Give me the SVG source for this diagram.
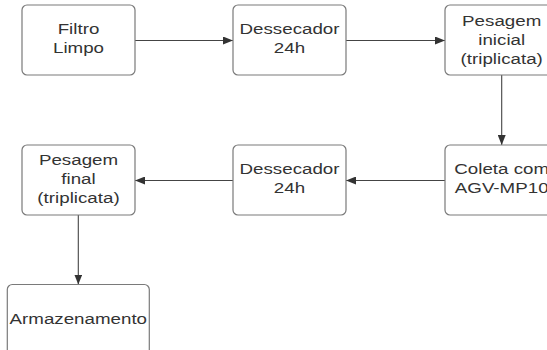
<svg xmlns="http://www.w3.org/2000/svg" width="547" height="350" viewBox="0 0 547 350">
<defs>
<marker id="arr" viewBox="0 0 10 8" refX="10" refY="4" markerWidth="10" markerHeight="8" markerUnits="userSpaceOnUse" orient="auto">
<path d="M0,0 L10,4 L0,8 Z" fill="#333"/>
</marker>
<style>
.box{fill:#fff;stroke:#7a7a7a;stroke-width:1.2}
.lbl{font-family:"Liberation Sans",Arial,sans-serif;font-size:15px;fill:#333;text-anchor:middle}
.con{stroke:#444;stroke-width:1.1;fill:none;marker-end:url(#arr)}
</style>
</defs>
<rect width="547" height="350" fill="#fff"/>
<g id="connectors">
<line class="con" x1="135" y1="40.5" x2="233" y2="40.5"/>
<line class="con" x1="346" y1="40.5" x2="445" y2="40.5"/>
<line class="con" x1="501.7" y1="75" x2="501.7" y2="145"/>
<line class="con" x1="445" y1="180.5" x2="346" y2="180.5"/>
<line class="con" x1="233" y1="180.5" x2="135" y2="180.5"/>
<line class="con" x1="78.3" y1="215" x2="78.3" y2="284.5"/>
</g>
<g id="n1">
<rect class="box" x="22" y="5" width="113" height="70" rx="5"/>
<text class="lbl" transform="translate(78.5,34) scale(1.25,1)">Filtro</text>
<text class="lbl" transform="translate(78.5,52.7) scale(1.25,1)">Limpo</text>
</g>
<g id="n2">
<rect class="box" x="233" y="5" width="113" height="70" rx="5"/>
<text class="lbl" transform="translate(289.5,34) scale(1.25,1)">Dessecador</text>
<text class="lbl" transform="translate(289.5,52.7) scale(1.25,1)">24h</text>
</g>
<g id="n3">
<rect class="box" x="445" y="5" width="113" height="70" rx="5"/>
<text class="lbl" transform="translate(501.7,25.5) scale(1.25,1)">Pesagem</text>
<text class="lbl" transform="translate(501.7,44.8) scale(1.25,1)">inicial</text>
<text class="lbl" transform="translate(501.7,64) scale(1.25,1)">(triplicata)</text>
</g>
<g id="n4">
<rect class="box" x="445" y="145" width="113" height="70" rx="5"/>
<text class="lbl" transform="translate(501.7,174.3) scale(1.25,1)">Coleta com</text>
<text class="lbl" transform="translate(501.7,192.8) scale(1.25,1)">AGV-MP10</text>
</g>
<g id="n5">
<rect class="box" x="233" y="145" width="113" height="70" rx="5"/>
<text class="lbl" transform="translate(289.5,174.3) scale(1.25,1)">Dessecador</text>
<text class="lbl" transform="translate(289.5,192.8) scale(1.25,1)">24h</text>
</g>
<g id="n6">
<rect class="box" x="22" y="145" width="113" height="70" rx="5"/>
<text class="lbl" transform="translate(78.5,164.5) scale(1.25,1)">Pesagem</text>
<text class="lbl" transform="translate(78.5,183.5) scale(1.25,1)">final</text>
<text class="lbl" transform="translate(78.5,202.5) scale(1.25,1)">(triplicata)</text>
</g>
<g id="n7">
<rect class="box" x="7.3" y="284.5" width="142" height="80" rx="5"/>
<text class="lbl" transform="translate(78.3,324) scale(1.25,1)">Armazenamento</text>
</g>
</svg>
